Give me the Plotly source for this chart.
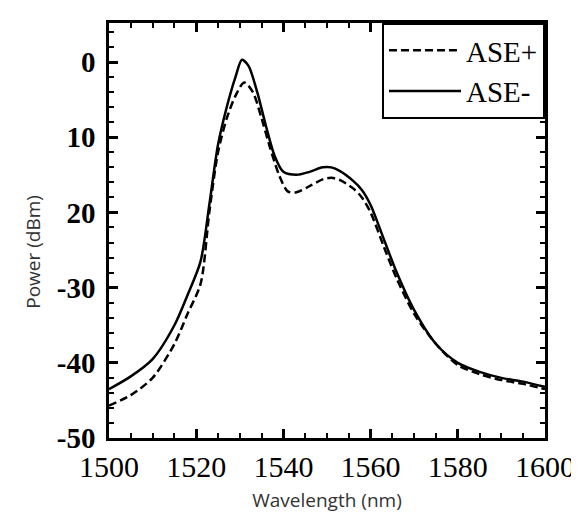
import plotly.graph_objects as go

# ASE- (solid)
wl_minus = [1500, 1505, 1510, 1515, 1518, 1521, 1523, 1525, 1527, 1529, 1530.5, 1532, 1534, 1536,
            1538, 1540, 1543, 1546, 1549, 1551, 1553, 1556, 1558, 1560, 1563, 1566, 1570, 1575,
            1580, 1585, 1590, 1595, 1600]
p_minus = [-43.5, -41.8, -39.5, -35.0, -31.0, -26.5, -19.0, -11.0, -6.0, -2.0, 0.3, -0.5, -4.0, -8.5,
           -12.5, -14.6, -15.0, -14.6, -14.0, -14.0, -14.5, -15.8, -17.0, -19.0, -23.5, -28.0, -33.0, -37.5,
           -40.0, -41.2, -42.0, -42.5, -43.2]

# ASE+ (dashed)
wl_plus = [1500, 1505, 1510, 1515, 1518, 1521, 1523, 1525, 1527, 1529, 1531, 1533, 1535, 1537,
           1539, 1541, 1543, 1546, 1549, 1551, 1553, 1556, 1558, 1560, 1563, 1566, 1570, 1575,
           1580, 1585, 1590, 1595, 1600]
p_plus = [-45.7, -44.3, -42.0, -37.5, -33.5, -29.5, -20.0, -12.0, -7.5, -4.5, -2.7, -4.0, -7.5, -11.5,
          -15.0, -17.2, -17.3, -16.5, -15.6, -15.4, -15.7, -16.8, -18.0, -20.0, -24.5, -28.8, -33.5, -37.5,
          -40.3, -41.5, -42.3, -42.8, -43.5]

x_ticks = [1500, 1520, 1540, 1560, 1580, 1600]
y_ticks = [0, -10, -20, -30, -40, -50]
y_ticktext = ["0", "10", "20", "-30", "-40", "-50"]

x_minor = [v for v in range(1500, 1601, 5) if v % 20]
y_minor = [v for v in range(-50, 5, 2) if v % 10]

X_RANGE = [1500, 1600]
Y_RANGE = [-50, 5.2]

fig = go.Figure()
fig.add_trace(go.Scatter(x=wl_plus, y=p_plus, mode="lines", name="ASE+",
                         line=dict(color="black", width=2.5, dash="8px,4px", shape="spline", smoothing=0.8)))
fig.add_trace(go.Scatter(x=wl_minus, y=p_minus, mode="lines", name="ASE-",
                         line=dict(color="black", width=2.5, shape="spline", smoothing=0.8)))
# invisible carrier trace for the minor-tick overlay axes
fig.add_trace(go.Scatter(x=wl_minus, y=p_minus, xaxis="x2", yaxis="y2", mode="lines",
                         line=dict(width=0, color="rgba(0,0,0,0)"), showlegend=False, hoverinfo="skip"))

serif = "Liberation Serif"
sans = "Open Sans"

fig.update_layout(
    width=579, height=513,
    margin=dict(l=101, r=32, t=13, b=83),
    paper_bgcolor="white", plot_bgcolor="white",
    showlegend=True,
    legend=dict(x=1, y=1, xanchor="right", yanchor="top",
                bordercolor="black", borderwidth=2, bgcolor="white",
                font=dict(family=serif, size=29, color="black"),
                tracegroupgap=0, itemwidth=72),
    annotations=[dict(text="Power (dBm)", textangle=-90, xref="paper", yref="paper",
                      x=-0.175, y=0.448, xanchor="center", yanchor="middle", showarrow=False,
                      font=dict(family=sans, size=19, color="#333"))],
    xaxis=dict(
        range=X_RANGE, tickmode="array", tickvals=x_ticks, ticktext=[str(v) for v in x_ticks],
        showgrid=False, zeroline=False, showline=True, linecolor="black", linewidth=2.5,
        mirror="allticks", ticks="inside", ticklen=9, tickwidth=2.5, tickcolor="black",
        tickfont=dict(family=serif, size=30, color="black"),
        title=dict(text="Wavelength (nm)", font=dict(family=sans, size=19, color="#333"), standoff=12),
    ),
    yaxis=dict(
        range=Y_RANGE, tickmode="array", tickvals=y_ticks, ticktext=y_ticktext,
        showgrid=False, zeroline=False, showline=True, linecolor="black", linewidth=2.5,
        mirror="allticks", ticks="inside", ticklen=9, tickwidth=2.5, tickcolor="black",
        tickfont=dict(family=serif, size=29, color="black", weight="bold"),
        ticklabelstandoff=5,
    ),
    xaxis2=dict(overlaying="x", anchor="y2", side="bottom", range=X_RANGE,
                tickmode="array", tickvals=x_minor, showticklabels=False,
                ticks="inside", ticklen=5, tickwidth=2, tickcolor="black",
                showline=False, mirror="allticks", showgrid=False, zeroline=False),
    yaxis2=dict(overlaying="y", anchor="x2", side="left", range=Y_RANGE,
                tickmode="array", tickvals=y_minor, showticklabels=False,
                ticks="inside", ticklen=5, tickwidth=2, tickcolor="black",
                showline=False, mirror="allticks", showgrid=False, zeroline=False),
)

fig.write_html("out.html")
